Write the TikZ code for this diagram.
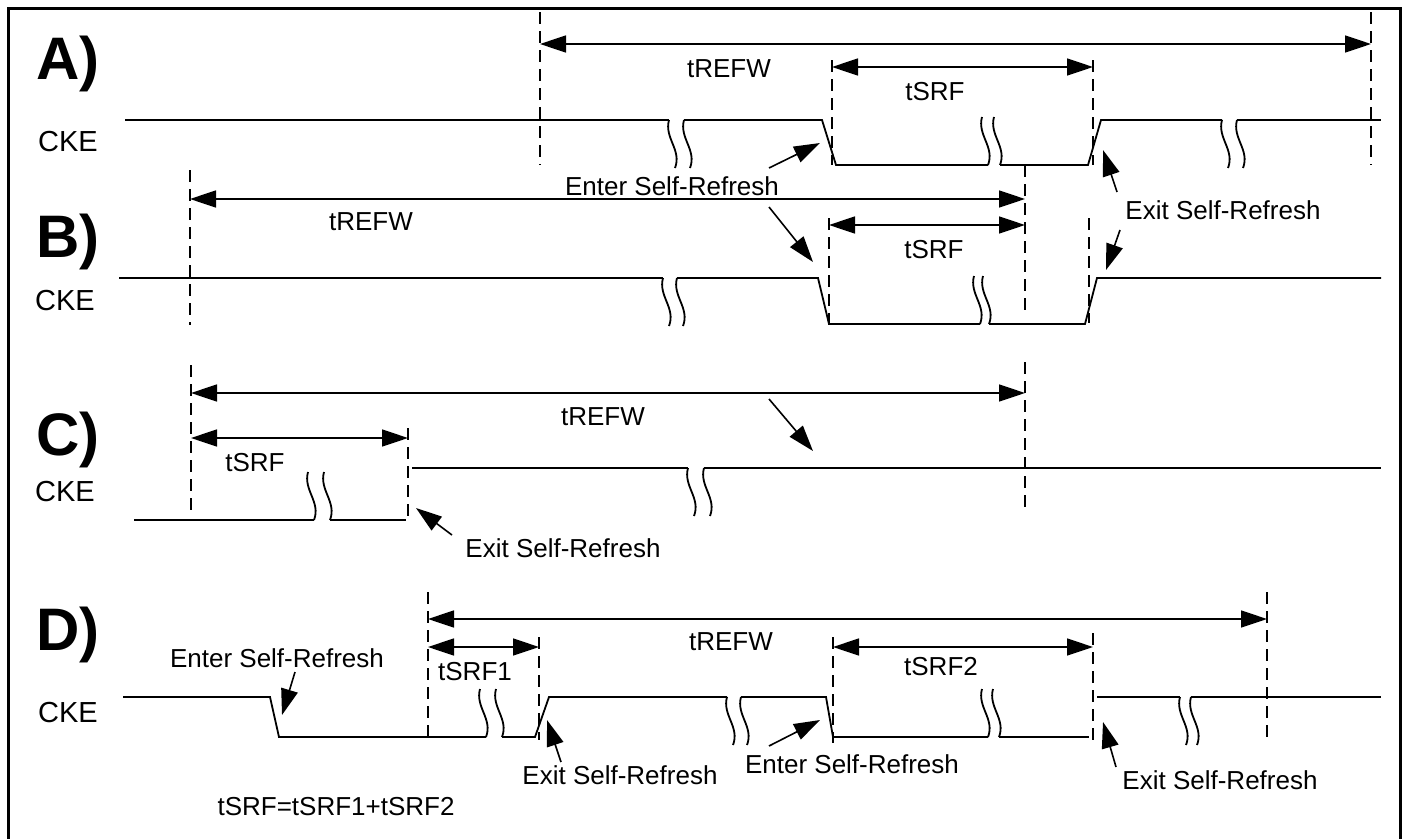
\documentclass[tikz,border=0pt]{standalone}
\usepackage{fontspec}
\setmainfont{Liberation Sans}
\usetikzlibrary{arrows.meta}
\newcommand\mybrk[3]{%
  \draw[sig] ({#1},{#2}) .. controls ({#1-5},{#2+18}) and ({#1+13},{#2+30}) .. ({#1+6},{#2+48});
  \draw[sig] ({#1+#3},{#2}) .. controls ({#1+#3-5},{#2+18}) and ({#1+#3+13},{#2+30}) .. ({#1+#3+6},{#2+48});
}
\begin{document}
\begin{tikzpicture}[x=1pt,y=-1pt,
  sig/.style={line width=1.8pt},
  dsh/.style={line width=1.6pt, dash pattern=on 12pt off 7pt},
  dim/.style={line width=1.6pt, {Triangle[length=26pt,width=17pt]}-{Triangle[length=26pt,width=17pt]}},
  ann/.style={line width=1.6pt, -{Triangle[length=26pt,width=17pt]}},
  lbl/.style={inner sep=0pt, font=\fontsize{26}{30}\selectfont},
  cke/.style={inner sep=0pt, font=\fontsize{29}{33}\selectfont},
  ttl/.style={inner sep=0pt, anchor=base, font=\fontsize{60}{70}\selectfont\bfseries}]
\useasboundingbox (0,0) rectangle (1408,838);
\draw[line width=3pt] (8,8) rectangle (1400,850);

% ================= Panel A =================
\node[ttl] (tA) at (68,79) {A)};
\node[cke] (ckeA) at (68,142) {CKE};
\draw[sig] (125,120) -- (669,120);
\mybrk{669}{120}{15}
\draw[sig] (684,120) -- (822,120) -- (836,165) -- (988,165);
\mybrk{982}{117}{12}
\draw[sig] (1000,165) -- (1088,165) -- (1101,120) -- (1222,120);
\mybrk{1222}{120}{15}
\draw[sig] (1237,120) -- (1381,120);
\draw[dsh] (540,12) -- (540,165);
\draw[dsh] (832,60) -- (832,165);
\draw[dsh] (1093,60) -- (1093,165);
\draw[dsh] (1371,12) -- (1371,165);
\coordinate (aW1) at (540,44); \coordinate (aW2) at (1371,44);
\coordinate (aS1) at (832,67); \coordinate (aS2) at (1093,67);
\draw[dim] (aW1) -- (aW2);
\draw[dim] (aS1) -- (aS2);
\node[lbl] (aWl) at (729,69) {tREFW};
\node[lbl] (aSl) at (935,92) {tSRF};

% shared labels A/B
\node[lbl] (enterAB) at (672,186) {Enter Self-Refresh};
\node[lbl] (exitAB) at (1223,210) {Exit Self-Refresh};
\coordinate (eA) at (820,143); \coordinate (eB) at (813,262);
\coordinate (xA) at (1103,150); \coordinate (xB) at (1106,270);
\draw[ann] (769,168) coordinate (eAt) -- (eA);
\draw[ann] (769,207) coordinate (eBt) -- (eB);
\draw[ann] (1117,192) coordinate (xAt) -- (xA);
\draw[ann] (1120,230) coordinate (xBt) -- (xB);

% ================= Panel B =================
\node[ttl] (tB) at (68,257) {B)};
\node[cke] (ckeB) at (65,301) {CKE};
\draw[sig] (119,278) -- (663,278);
\mybrk{663}{278}{14}
\draw[sig] (677,278) -- (818,278) -- (829,324) -- (980,324);
\mybrk{974}{276}{9}
\draw[sig] (989,324) -- (1085,324) -- (1097,278) -- (1381,278);
\draw[dsh] (190,170) -- (190,325);
\draw[dsh] (829,218) -- (829,325);
\draw[dsh] (1025,165) -- (1025,317);
\draw[dsh] (1089,218) -- (1089,323);
\coordinate (bW1) at (190,199); \coordinate (bW2) at (1025,199);
\coordinate (bS1) at (829,225); \coordinate (bS2) at (1025,225);
\draw[dim] (bW1) -- (bW2);
\draw[dim] (bS1) -- (bS2);
\node[lbl] (bWl) at (371,222) {tREFW};
\node[lbl] (bSl) at (934,250) {tSRF};

% ================= Panel C =================
\node[ttl] (tC) at (68,455) {C)};
\node[cke] (ckeC) at (65,492) {CKE};
\draw[sig] (134,520) -- (314,520);
\mybrk{308}{472}{16}
\draw[sig] (330,520) -- (406,520);
\draw[sig] (412,468) -- (688,468);
\mybrk{688}{468}{16}
\draw[sig] (704,468) -- (1381,468);
\draw[dsh] (191,365) -- (191,517);
\draw[dsh] (408,428) -- (408,522);
\draw[dsh] (1025,362) -- (1025,513);
\coordinate (cW1) at (191,393); \coordinate (cW2) at (1025,393);
\coordinate (cS1) at (191,438); \coordinate (cS2) at (408,438);
\draw[dim] (cW1) -- (cW2);
\draw[dim] (cS1) -- (cS2);
\node[lbl] (cWl) at (603,417) {tREFW};
\node[lbl] (cSl) at (255,463) {tSRF};
\node[lbl] (exitC) at (563,548) {Exit Self-Refresh};
\coordinate (xC) at (416,508);
\draw[ann] (452,535) coordinate (xCt) -- (xC);
\coordinate (sC) at (813,451);
\draw[ann] (769,399) coordinate (sCt) -- (sC);

% ================= Panel D =================
\node[ttl] (tD) at (68,650) {D)};
\node[cke] (ckeD) at (68,713) {CKE};
\draw[sig] (123,697) -- (270,697) -- (279,737) -- (486,737);
\mybrk{480}{689}{16}
\draw[sig] (502,737) -- (535,737) -- (549,697) -- (727,697);
\mybrk{727}{697}{14}
\draw[sig] (741,697) -- (826,697) -- (833,737) -- (988,737);
\mybrk{982}{689}{11}
\draw[sig] (999,737) -- (1089,737);
\draw[sig] (1097,697) -- (1180,697);
\mybrk{1180}{697}{11}
\draw[sig] (1191,697) -- (1381,697);
\draw[dsh] (428,592) -- (428,743);
\draw[dsh] (539,637) -- (539,740);
\draw[dsh] (833,637) -- (833,743);
\draw[dsh] (1093,633) -- (1093,743);
\draw[dsh] (1267,592) -- (1267,743);
\coordinate (dW1) at (428,619); \coordinate (dW2) at (1267,619);
\coordinate (dS11) at (428,647); \coordinate (dS12) at (539,647);
\coordinate (dS21) at (833,647); \coordinate (dS22) at (1093,647);
\draw[dim] (dW1) -- (dW2);
\draw[dim] (dS11) -- (dS12);
\draw[dim] (dS21) -- (dS22);
\node[lbl] (dWl) at (731,642) {tREFW};
\node[lbl] (dS1l) at (475,672) {tSRF1};
\node[lbl] (dS2l) at (941,667) {tSRF2};
\node[lbl] (enterD1) at (277,658) {Enter Self-Refresh};
\node[lbl] (exitD1) at (620,775) {Exit Self-Refresh};
\node[lbl] (enterD2) at (852,764) {Enter Self-Refresh};
\node[lbl] (exitD2) at (1220,780) {Exit Self-Refresh};
\node[lbl] (sumD) at (336,807) {tSRF=tSRF1+tSRF2};
\coordinate (eD1) at (282,715); \coordinate (xD1) at (547,720);
\coordinate (eD2) at (820,720); \coordinate (xD2) at (1103,722);
\draw[ann] (295,672) coordinate (eD1t) -- (eD1);
\draw[ann] (561,762) coordinate (xD1t) -- (xD1);
\draw[ann] (769,746) coordinate (eD2t) -- (eD2);
\draw[ann] (1116,767) coordinate (xD2t) -- (xD2);
\end{tikzpicture}
\end{document}
